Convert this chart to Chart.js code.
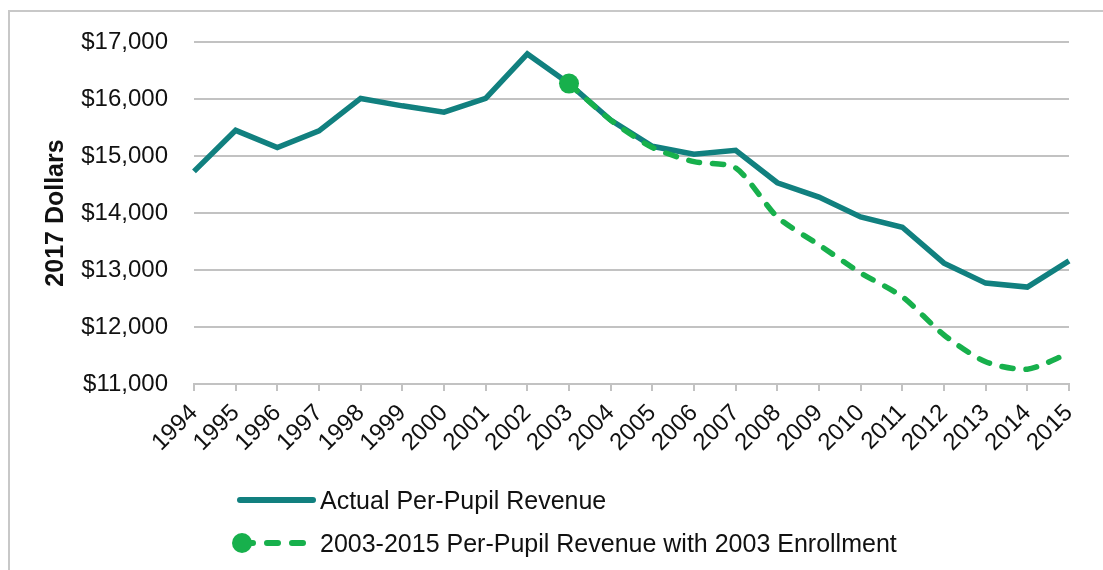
<!DOCTYPE html>
<html>
<head>
<meta charset="utf-8">
<script src="https://cdn.jsdelivr.net/npm/chart.js@4.4.1/dist/chart.umd.min.js"></script>
<style>
  html, body { margin: 0; padding: 0; background: #fff; }
  body { width: 1103px; height: 570px; position: relative; overflow: hidden; font-family: "Liberation Sans", Arial, sans-serif; }
  #frame { position: absolute; left: 8px; top: 10px; width: 1200px; height: 700px; border-left: 2px solid #c8c8c8; border-top: 2px solid #c8c8c8; }
  #wrap { position: absolute; left: 0; top: 0; width: 1103px; height: 570px; }
  .leg { position: absolute; left: 0; height: 30px; }
  .leg svg { position: absolute; top: 0; }
  .leg span { position: absolute; left: 320px; top: 0; line-height: 30px; font-size: 25px; color: #111; white-space: nowrap; }
</style>
</head>
<body>
<div id="frame"></div>
<div id="wrap"><canvas id="chart" width="1103" height="570"></canvas></div>
<div class="leg" style="top:485px">
  <svg width="330" height="30"><line x1="240" y1="15" x2="313" y2="15" stroke="#11807f" stroke-width="6" stroke-linecap="round"/></svg>
  <span>Actual Per-Pupil Revenue</span>
</div>
<div class="leg" style="top:528px">
  <svg width="330" height="30"><line x1="242" y1="15" x2="312" y2="15" stroke="#17b04c" stroke-width="6" stroke-linecap="round" stroke-dasharray="11 14"/><circle cx="242" cy="15" r="10" fill="#17b04c"/></svg>
  <span>2003-2015 Per-Pupil Revenue with 2003 Enrollment</span>
</div>
<script>
const years = ['1994','1995','1996','1997','1998','1999','2000','2001','2002','2003','2004',
  '2005','2006','2007','2008','2009','2010','2011','2012','2013','2014','2015'];
const actualRevenue = [14730, 15450, 15150, 15440, 16010, 15880, 15770, 16010, 16790, 16270, 15630,
  15170, 15030, 15100, 14530, 14280, 13930, 13750, 13120, 12770, 12700, 13160];
const enrollment2003Revenue = [null, null, null, null, null, null, null, null, null, 16270, 15630,
  15150, 14900, 14790, 13930, 13440, 12950, 12530, 11860, 11390, 11260, 11540];
const yTicks = [11000, 12000, 13000, 14000, 15000, 16000, 17000];

const teal = '#11807f';
const green = '#17b04c';
const gridColor = '#c2c2c2';
const font = '"Liberation Sans", Arial, sans-serif';

new Chart(document.getElementById('chart'), {
  type: 'line',
  data: {
    labels: years,
    datasets: [{
      label: '2003-2015 Per-Pupil Revenue with 2003 Enrollment',
      data: enrollment2003Revenue,
      borderColor: green,
      backgroundColor: green,
      borderWidth: 5.5,
      borderDash: [11, 13],
      borderCapStyle: 'round',
      tension: 0.25,
      pointRadius: enrollment2003Revenue.map((v, i) => years[i] === '2003' ? 10 : 0),
      pointBackgroundColor: green,
      pointBorderWidth: 0,
      order: 0
    }, {
      label: 'Actual Per-Pupil Revenue',
      data: actualRevenue,
      borderColor: teal,
      backgroundColor: teal,
      borderWidth: 5.5,
      tension: 0,
      pointRadius: 0,
      order: 1
    }]
  },
  options: {
    responsive: false,
    animation: false,
    devicePixelRatio: 1,
    layout: { padding: { top: 42, right: 34, bottom: 106, left: 0 } },
    plugins: { legend: { display: false }, tooltip: { enabled: false } },
    scales: {
      x: {
        offset: false,
        grid: { drawOnChartArea: false, drawTicks: true, tickLength: 7, color: gridColor, lineWidth: 2 },
        border: { color: gridColor, width: 2 },
        ticks: {
          autoSkip: false, minRotation: 45, maxRotation: 45, padding: 8,
          color: '#111', font: { family: font, size: 24 }
        },
        afterFit: s => { s.height = 80; }
      },
      y: {
        min: 11000,
        max: 17000,
        afterBuildTicks: s => { s.ticks = yTicks.map(v => ({ value: v })); },
        grid: { color: gridColor, lineWidth: 2, drawTicks: false },
        border: { display: false },
        ticks: {
          padding: 26, color: '#111', font: { family: font, size: 24 },
          callback: v => '$' + v.toLocaleString('en-US')
        },
        title: {
          display: true, text: '2017 Dollars', color: '#111',
          font: { family: font, size: 25, weight: 'bold' },
          padding: { top: 41, bottom: 0 }
        },
        afterFit: s => { s.width = 194; }
      }
    }
  }
});
</script>
</body>
</html>
